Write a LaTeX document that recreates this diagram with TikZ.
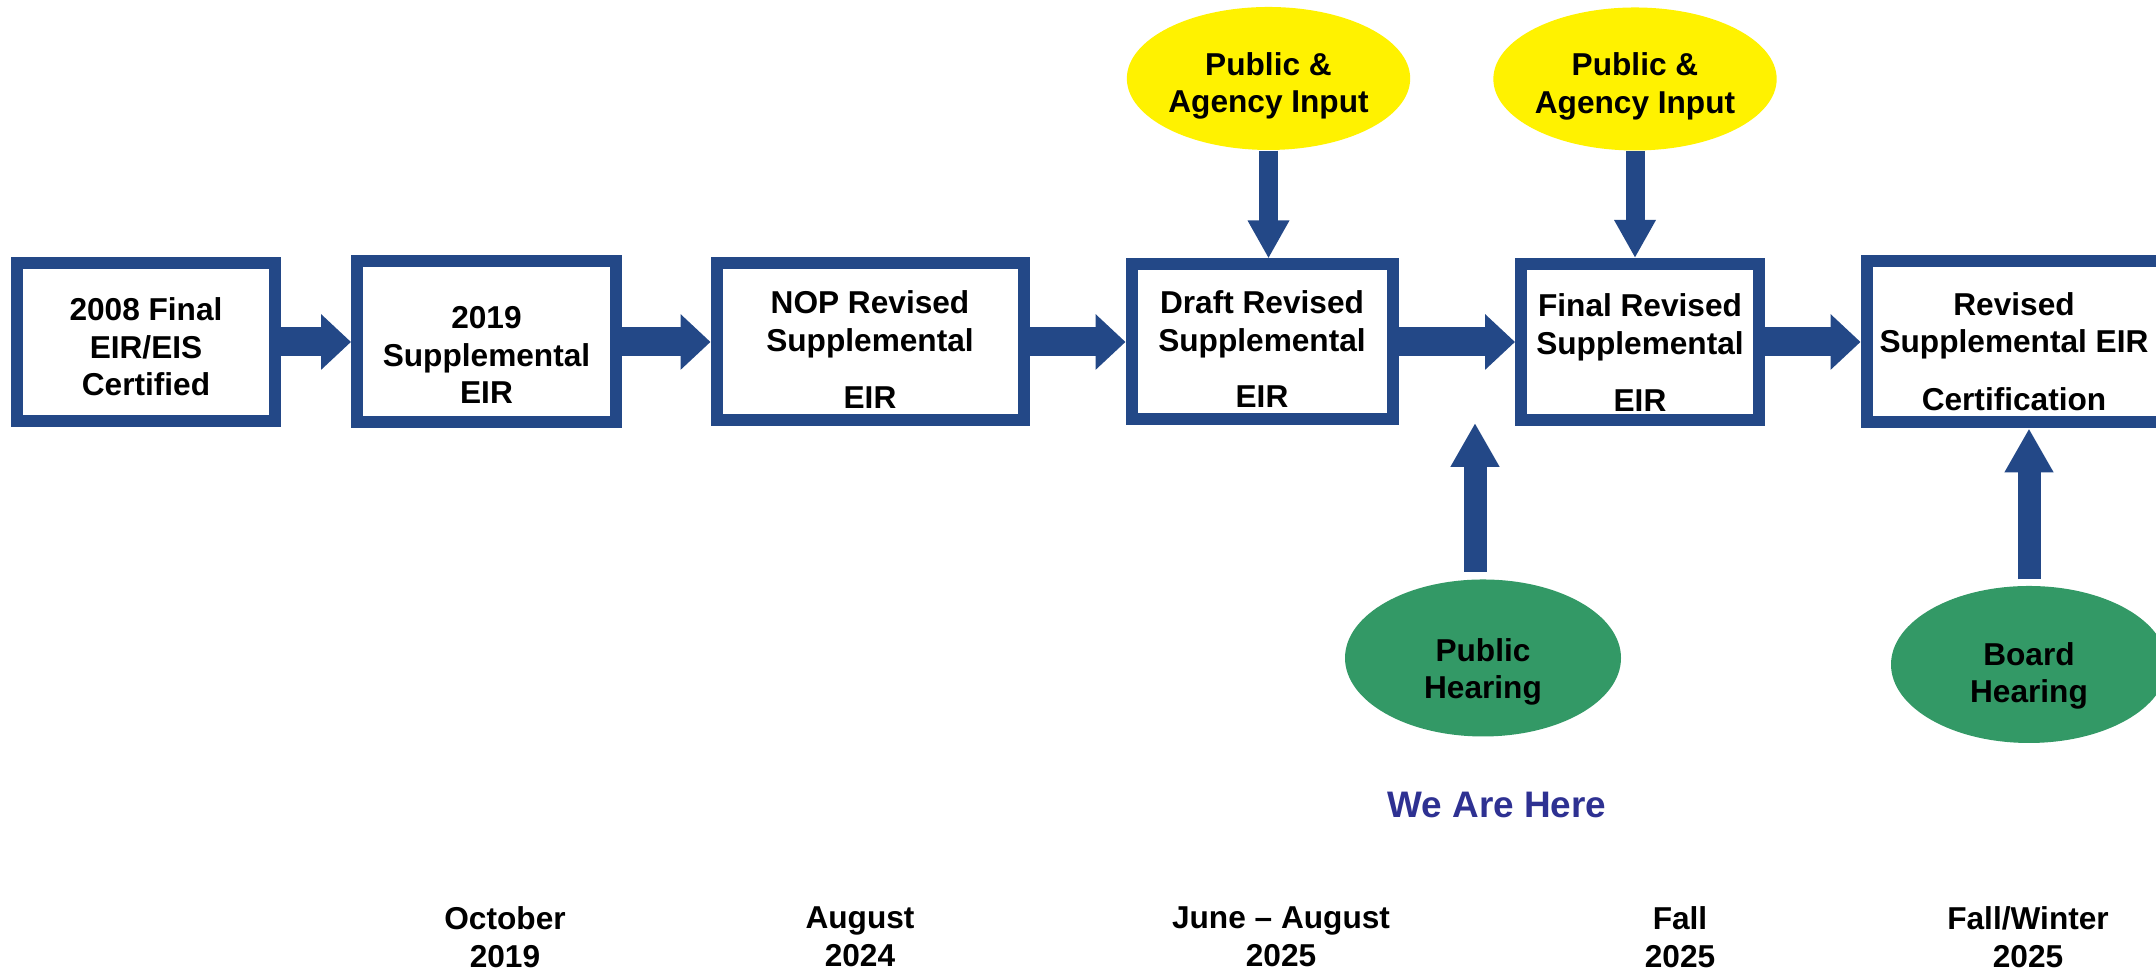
\documentclass[tikz,border=0pt]{standalone}
\usepackage{fontspec}
\setmainfont{Liberation Sans}
\usepackage{tikz}
\usetikzlibrary{
  shapes.geometric
  , calc
  % for block arrows
  , arrows.meta
  % ------
}
\definecolor{StepBlue}{RGB}{35,72,135}
\definecolor{HearGreen}{RGB}{51,153,102}
\definecolor{HereBlue}{RGB}{46,49,146}

\begin{document}
\begin{tikzpicture}[
    font=\fontsize{9}{10.7}\selectfont\bfseries,
    stepbox/.style={draw=StepBlue, fill=white, rectangle,
      line width=0.12cm, inner sep=0pt, align=center, text depth=0pt},
    inputell/.style={ellipse, fill=yellow, inner sep=0pt,
      minimum width=2.59cm, minimum height=1.43cm, align=center,
      text depth=0pt, text height=0.69cm},
    hearell/.style={ellipse, fill=HearGreen, inner sep=0pt,
      minimum width=2.76cm, minimum height=1.57cm, align=center,
      text depth=0pt},
    flowarrow/.style={-{Triangle[width=0.54cm,length=0.3cm]},
      line width=0.29cm, color=StepBlue},
    inarrow/.style={-{Triangle[width=0.39cm,length=0.38cm]},
      line width=0.19cm, color=StepBlue},
    uparrow/.style={-{Triangle[width=0.46cm,length=0.44cm]},
      line width=0.23cm, color=StepBlue},
  ]
      \useasboundingbox (0,0) rectangle (21.56,9.74);

      % steps of the review
      \node [stepbox, minimum width=2.58cm, minimum height=1.58cm, text height=1.08cm]
      (CertRect) at (1.46, 6.32) {2008 Final\\EIR/EIS\\Certified};
      \node [stepbox, minimum width=2.59cm, minimum height=1.61cm, text height=1.24cm]
      (SuppRect) at (4.865, 6.32) {2019\\Supplemental\\EIR};
      \node [stepbox, minimum width=3.07cm, minimum height=1.57cm, text height=1.34cm]
      (NopRect) at (8.70, 6.32) {NOP Revised\\Supplemental\\[0.2cm]EIR};
      \node [stepbox, minimum width=2.61cm, minimum height=1.55cm, text height=1.32cm]
      (DraftRect) at (12.62, 6.32) {Draft Revised\\Supplemental\\[0.19cm]EIR};
      \node [stepbox, minimum width=2.38cm, minimum height=1.56cm, text height=1.40cm]
      (FinalRect) at (16.40, 6.32) {Final Revised\\Supplemental\\[0.2cm]EIR};
      \node [stepbox, minimum width=2.95cm, minimum height=1.61cm, text height=1.37cm]
      (RevCertRect) at (20.14, 6.32) {Revised\\Supplemental EIR\\[0.2cm]Certification};

      \draw[flowarrow] (CertRect.east) -- (SuppRect.west);
      \draw[flowarrow] (SuppRect.east) -- (NopRect.west);
      \draw[flowarrow] (NopRect.east) -- (DraftRect.west);
      \draw[flowarrow] (DraftRect.east) -- (FinalRect.west);
      \draw[flowarrow] (FinalRect.east) -- (RevCertRect.west);

      % public input
      \node [inputell] (DraftInput) at (12.685, 8.955) {Public \&\\Agency Input};
      \node [inputell] (FinalInput) at (16.35, 8.95) {Public \&\\Agency Input};
      \draw[inarrow] (DraftInput.south) -- (DraftInput.south |- DraftRect.north);
      \draw[inarrow] (FinalInput.south) -- (FinalInput.south |- FinalRect.north);

      % hearings
      \node [hearell, text height=0.82cm] (PubHear) at (14.83, 3.16) {Public\\Hearing};
      \node [hearell, text height=0.77cm] (BoardHear) at (20.29, 3.095) {Board\\Hearing};
      \coordinate (PubHearTip) at (14.75, 5.51);
      \draw[uparrow] ([shift={(-0.08,0.07)}]PubHear.north) -- (PubHearTip);
      \draw[uparrow] ([yshift=0.06cm]BoardHear.north) -- (BoardHear.north |- RevCertRect.south);

      \node [font=\fontsize{10.5}{12}\selectfont\bfseries, color=HereBlue]
      (HereLbl) at (14.97, 1.69) {We Are Here};

      % dates
      \node [align=center] (OctDate) at (5.05, 0.37) {October\\2019};
      \node [align=center] (AugDate) at (8.60, 0.37) {August\\2024};
      \node [align=center] (SummerDate) at (12.81, 0.37) {June -- August\\2025};
      \node [align=center] (FallDate) at (16.80, 0.37) {Fall\\2025};
      \node [align=center] (WinterDate) at (20.28, 0.37) {Fall/Winter\\2025};
\end{tikzpicture}
\end{document}
